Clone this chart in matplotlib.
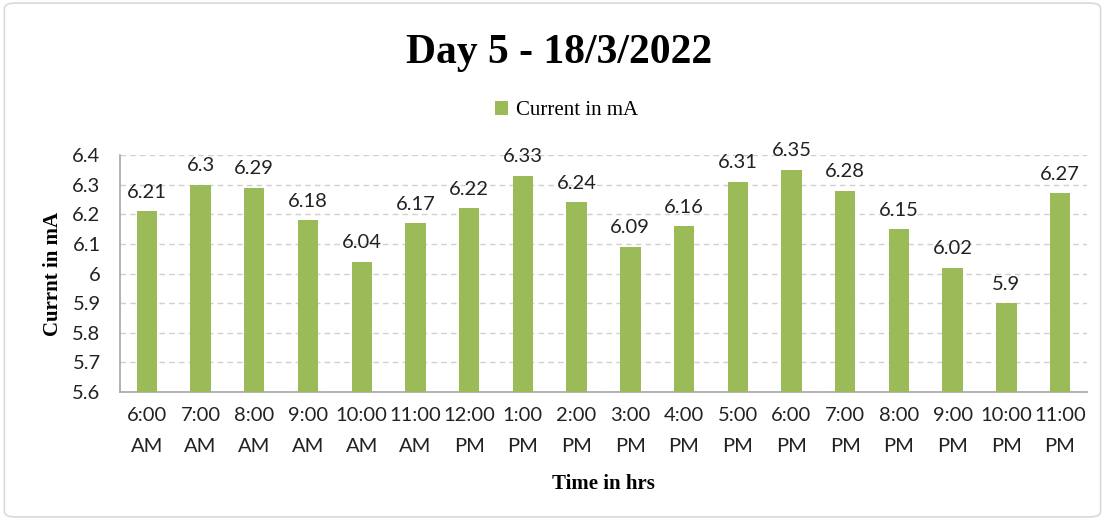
import matplotlib
matplotlib.use("Agg")
import matplotlib.pyplot as plt
from matplotlib.patches import FancyBboxPatch

categories = ["6:00\nAM", "7:00\nAM", "8:00\nAM", "9:00\nAM", "10:00\nAM", "11:00\nAM",
              "12:00\nPM", "1:00\nPM", "2:00\nPM", "3:00\nPM", "4:00\nPM", "5:00\nPM",
              "6:00\nPM", "7:00\nPM", "8:00\nPM", "9:00\nPM", "10:00\nPM", "11:00\nPM"]
values = [6.21, 6.3, 6.29, 6.18, 6.04, 6.17, 6.22, 6.33, 6.24, 6.09, 6.16, 6.31,
          6.35, 6.28, 6.15, 6.02, 5.9, 6.27]
labels = ["6.21", "6.3", "6.29", "6.18", "6.04", "6.17", "6.22", "6.33", "6.24", "6.09",
          "6.16", "6.31", "6.35", "6.28", "6.15", "6.02", "5.9", "6.27"]
yticks = [5.6, 5.7, 5.8, 5.9, 6.0, 6.1, 6.2, 6.3, 6.4]
ytick_labels = ["5.6", "5.7", "5.8", "5.9", "6", "6.1", "6.2", "6.3", "6.4"]

green = "#9BBB59"
sans = ["Lato", "DejaVu Sans"]
serif = ["Liberation Serif", "DejaVu Serif"]

fig = plt.figure(figsize=(11.05, 5.2), dpi=100)
ax = fig.add_axes([0.1086, 0.246, 0.875, 0.456])

x = list(range(len(categories)))
bars = ax.bar(x, values, width=0.38, color=green, zorder=3, label="Current in mA")
ax.set_ylim(5.6, 6.4)
ax.set_xlim(-0.5, len(categories) - 0.5)
ax.set_yticks(yticks)
ax.set_yticklabels(ytick_labels, family=sans, fontsize=14.5)
ax.set_xticks(x)
ax.set_xticklabels(categories, family=sans, fontsize=14.5, linespacing=1.95)
ax.tick_params(axis="both", length=0, colors="#222222")
ax.tick_params(axis="x", pad=11)
ax.tick_params(axis="y", pad=14)
ax.grid(axis="y", linestyle=(0, (4, 3)), color="#D0D0D0", linewidth=1, zorder=0)
for s in ["top", "right"]:
    ax.spines[s].set_visible(False)
for s in ["left", "bottom"]:
    ax.spines[s].set_color("#A6A6A6")
    ax.spines[s].set_linewidth(1.2)

for xi, v, lab in zip(x, values, labels):
    ax.text(xi, v + 0.035, lab, ha="center", va="bottom", family=sans, fontsize=14.5, color="#222222")

ax.set_ylabel("Currnt in mA", family=serif, fontweight="bold", fontsize=15, labelpad=7)
ax.set_xlabel("Time in hrs", family=serif, fontweight="bold", fontsize=15, labelpad=14)

fig.text(0.5055, 0.898, "Day 5 - 18/3/2022", ha="center", va="center", family=serif,
         fontweight="bold", fontsize=30)
leg = fig.legend(handles=[bars], labels=["Current in mA"], loc="center", bbox_to_anchor=(0.513, 0.787),
                 frameon=False, prop={"family": serif, "size": 15}, handlelength=0.6,
                 handleheight=0.6, handletextpad=0.4)

border = FancyBboxPatch((0.004, 0.006), 0.992, 0.988, boxstyle="round,pad=0,rounding_size=0.01",
                        transform=fig.transFigure, fill=False, edgecolor="#D9D9D9", linewidth=1.2)
fig.patches.append(border)

fig.savefig("out.png", dpi=100)
